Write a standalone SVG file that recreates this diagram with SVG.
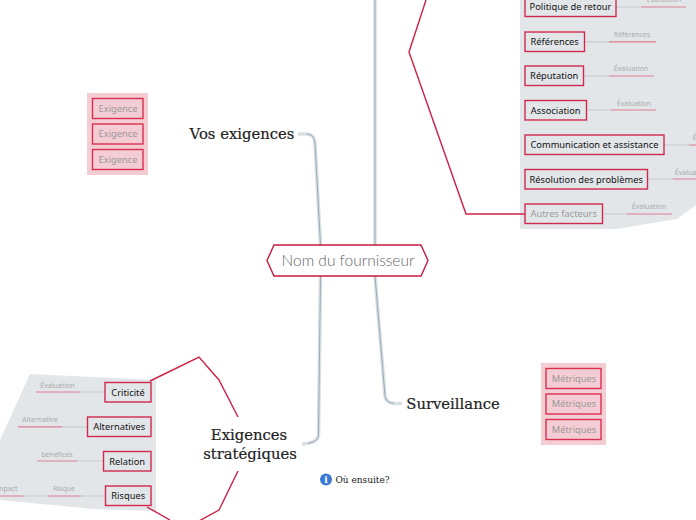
<svg xmlns="http://www.w3.org/2000/svg" width="696" height="520" viewBox="0 0 696 520">
<style>
.bg{fill:#e3e6e9}
.pk{fill:#f4ccd4}
.box{fill:#e3e6e9;stroke:#cf2a4e;stroke-width:1.4}
.pb{fill:#f4ccd4;stroke:#d9304f;stroke-width:1.4}
.t{font-family:"Noto Sans","Open Sans",sans-serif;font-size:9.300px;fill:#111;text-anchor:middle}
.g{fill:#9a9a9a}
.s{font-family:"Noto Sans","Open Sans",sans-serif;font-size:7px;fill:#aaa;text-anchor:middle}
.h{font-family:"DejaVu Serif",serif;font-size:14.800px;fill:#222;stroke:#222;stroke-width:.2;text-anchor:middle}
.red{fill:none;stroke:#cf1f45;stroke-width:1.400}
.m1{fill:none;stroke:#c6ccd1;stroke-width:1.200}
.m2{fill:none;stroke:#dc7f92;stroke-width:1.200}
.b1{fill:none;stroke:#d9e0e4;stroke-width:3.600}
.b2{fill:none;stroke:#93a6b2;stroke-width:.9}
</style>
<rect width="696" height="520" fill="#fff"/>
<polygon class="bg" points="520,0 696,0 696,205 677,219 617,229 520,229"/>
<polygon class="bg" points="30,374 156,380 156,511 93,509 0,500 0,440"/>
<rect class="pk" x="87" y="93" width="61" height="82"/>
<rect class="pk" x="541" y="363" width="65" height="82"/>
<g id="connectors">
<path class="b1" d="M375 0V245M375 276L385 396Q386 403 395 403.500H402"/>
<path class="b2" d="M375 0V245M375 276L385 396Q386 403 394 403.500"/>
<path class="b1" d="M320.500 245L315 143Q314 134 307 134H298M320.500 276L318.500 435Q318 443 302 444"/>
<path class="b2" d="M320.500 245L315 143Q314 134 307 134M320.500 276L318.500 435Q318 442 308 443.500"/>
<path class="red" d="M426 0L409 52L466 214H525"/>
<path class="red" d="M150 381L199 357L219 380L238 417M238 471L219 510L199 521M147 507L170 520"/>
<path class="m1" d="M616 7H641M584 41.800H609M584 76H609M586 110H611M664 145H689M647 179H673M602 214H627M105 392H80M87 426.800H62M103 461H77M105 496H81M48 496H24"/>
<path class="m2" d="M641 7H686M609 41.800H656M609 76H654M611 110H656M689 145H696M673 179H696M627 214H672M80 392H36M62 426.800H18M77 461H37M81 496H48M24 496H0"/>
</g>
<g id="n-center"><polygon points="274,245 421,245 428,260.500 421,276 274,276 267,260.500" fill="#fff" stroke="#c9193f" stroke-width="1.400"/><text x="348" y="266" font-family="Lato,sans-serif" font-weight="300" font-size="15.500" fill="#666" text-anchor="middle">Nom du fournisseur</text></g>
<g id="n-vos"><text class="h" x="242" y="139">Vos exigences</text></g>
<g id="n-surv"><text class="h" x="453" y="409">Surveillance</text></g>
<g id="n-strat"><text class="h" x="249" y="440">Exigences</text><text class="h" x="250" y="459">stratégiques</text></g>
<g id="n-next"><circle cx="326" cy="479.500" r="6" fill="#3b78d8"/><text x="326" y="483" font-family="DejaVu Serif,serif" font-size="9" font-weight="700" fill="#fff" text-anchor="middle">i</text><text x="362.500" y="483" font-family="DejaVu Serif,serif" font-size="9" fill="#222" text-anchor="middle">Où ensuite?</text></g>
<g id="n-ex1"><rect class="pb" x="92.500" y="98.500" width="50.500" height="20"/><text class="t g" x="118" y="112">Exigence</text></g>
<g id="n-ex2"><rect class="pb" x="92.500" y="124" width="50.500" height="20"/><text class="t g" x="118" y="137">Exigence</text></g>
<g id="n-ex3"><rect class="pb" x="92.500" y="149.500" width="50.500" height="20"/><text class="t g" x="118" y="163">Exigence</text></g>
<g id="n-me1"><rect class="pb" x="546" y="368.500" width="55" height="20"/><text class="t g" x="574" y="381.500">Métriques</text></g>
<g id="n-me2"><rect class="pb" x="546" y="394" width="55" height="20"/><text class="t g" x="574" y="407">Métriques</text></g>
<g id="n-me3"><rect class="pb" x="546" y="419.500" width="55" height="20"/><text class="t g" x="574" y="433">Métriques</text></g>
<g id="n-pol"><rect class="box" x="525" y="-3" width="91" height="19.500"/><text class="t" x="570.500" y="10">Politique de retour</text></g>
<g id="n-ref"><rect class="box" x="525" y="32" width="59.500" height="19.500"/><text class="t" x="554.700" y="45">Références</text></g>
<g id="n-rep"><rect class="box" x="525" y="66" width="58.500" height="19.500"/><text class="t" x="554.200" y="79">Réputation</text></g>
<g id="n-ass"><rect class="box" x="525" y="100.500" width="61.500" height="19.500"/><text class="t" x="555.700" y="114">Association</text></g>
<g id="n-com"><rect class="box" x="525" y="135" width="139" height="19.500"/><text class="t" x="594.500" y="148">Communication et assistance</text></g>
<g id="n-res"><rect class="box" x="525" y="169.500" width="122.500" height="19.500"/><text class="t" x="586.200" y="183">Résolution des problèmes</text></g>
<g id="n-aut"><rect class="box" x="525" y="204" width="77.500" height="19.500"/><text class="t g" x="563.700" y="217">Autres facteurs</text></g>
<g id="n-cri"><rect class="box" x="105" y="382.500" width="46" height="19.500"/><text class="t" x="128" y="396">Criticité</text></g>
<g id="n-alt"><rect class="box" x="87.500" y="417" width="63.500" height="19.500"/><text class="t" x="119.200" y="430">Alternatives</text></g>
<g id="n-rel"><rect class="box" x="103.500" y="451.500" width="47.500" height="19.500"/><text class="t" x="127.200" y="465">Relation</text></g>
<g id="n-ris"><rect class="box" x="105.500" y="486" width="45.500" height="19.500"/><text class="t" x="128.200" y="499">Risques</text></g>
<text class="s" x="664" y="2">Évaluation</text>
<text class="s" x="632" y="37">Références</text>
<text class="s" x="631" y="71">Évaluation</text>
<text class="s" x="634" y="106">Évaluation</text>
<text class="s" x="710" y="140">Évaluation</text>
<text class="s" x="692" y="175">Évaluation</text>
<text class="s" x="649" y="209">Évaluation</text>
<text class="s" x="57.500" y="388">Évaluation</text>
<text class="s" x="40" y="422">Alternative</text>
<text class="s" x="57" y="457">bénéfices</text>
<text class="s" x="64" y="491">Risque</text>
<text class="s" x="6" y="491">Impact</text>
</svg>
